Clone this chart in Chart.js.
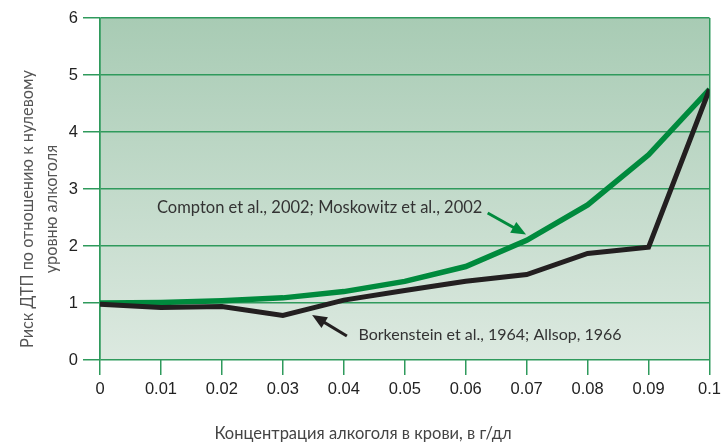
<!DOCTYPE html>
<html>
<head>
<meta charset="utf-8">
<script src="https://cdn.jsdelivr.net/npm/chart.js@4/dist/chart.umd.min.js"></script>
<style>
  html, body { margin: 0; padding: 0; background: #fff; }
  #wrap { width: 726px; height: 444px; }
</style>
</head>
<body>
<div id="wrap"><canvas id="risk_chart" width="726" height="444"></canvas></div>
<script>
// данные графика
const concentrations = [0, 0.01, 0.02, 0.03, 0.04, 0.05, 0.06, 0.07, 0.08, 0.09, 0.1];
const comptonRisk = [1.0, 1.01, 1.04, 1.09, 1.2, 1.38, 1.64, 2.1, 2.72, 3.6, 4.75];
const borkensteinRisk = [0.98, 0.92, 0.94, 0.78, 1.05, 1.22, 1.38, 1.5, 1.87, 1.98, 4.75];
const xTickLabels = ['0', '0.01', '0.02', '0.03', '0.04', '0.05', '0.06', '0.07', '0.08', '0.09', '0.1'];

const yTitle = ['Риск ДТП по отношению к нулевому', 'уровню алкоголя'];
const xTitle = 'Концентрация алкоголя в крови, в г/дл';
const comptonLabel = 'Compton et al., 2002; Moskowitz et al., 2002';
const borkensteinLabel = 'Borkenstein et al., 1964; Allsop, 1966';

const gridGreen = '#2f9a5c';

// фон с градиентом внутри области графика
const backgroundPlugin = {
    id: 'greenBackground',
    beforeDraw(chart) {
        const { ctx, chartArea } = chart;
        const g = ctx.createLinearGradient(0, chartArea.top, 0, chartArea.bottom);
        g.addColorStop(0, '#a8cbb4');
        g.addColorStop(1, '#dce9e0');
        ctx.save();
        ctx.fillStyle = g;
        ctx.fillRect(chartArea.left, chartArea.top, chartArea.right - chartArea.left, chartArea.bottom - chartArea.top);
        ctx.restore();
    }
};

function arrow(ctx, x1, y1, x2, y2, color) {
    const ang = Math.atan2(y2 - y1, x2 - x1);
    const head = 16;
    ctx.strokeStyle = color;
    ctx.fillStyle = color;
    ctx.lineWidth = 3;
    ctx.beginPath();
    ctx.moveTo(x1, y1);
    ctx.lineTo(x2 - Math.cos(ang) * head * 0.8, y2 - Math.sin(ang) * head * 0.8);
    ctx.stroke();
    ctx.beginPath();
    ctx.moveTo(x2, y2);
    ctx.lineTo(x2 - head * Math.cos(ang - 0.4), y2 - head * Math.sin(ang - 0.4));
    ctx.lineTo(x2 - head * Math.cos(ang + 0.4), y2 - head * Math.sin(ang + 0.4));
    ctx.closePath();
    ctx.fill();
}

// подписи, стрелки и заголовки осей
const labelsPlugin = {
    id: 'labels',
    afterDraw(chart) {
        const { ctx } = chart;
        const xs = chart.scales.x, ys = chart.scales.y;
        const px = v => xs.getPixelForValue(v), py = v => ys.getPixelForValue(v);
        ctx.save();
        ctx.fillStyle = '#333';
        ctx.textBaseline = 'middle';
        ctx.textAlign = 'left';
        ctx.font = '16.5px "Lato", "DejaVu Sans", sans-serif';
        ctx.fillText(comptonLabel, px(0.00935), py(2.67));
        ctx.font = '16px "Lato", "DejaVu Sans", sans-serif';
        ctx.fillText(borkensteinLabel, px(0.0424), py(0.44));

        arrow(ctx, px(0.0636), py(2.58), px(0.0699), py(2.2), '#008a3d');
        arrow(ctx, px(0.0405), py(0.42), px(0.0348), py(0.79), '#231f20');

        ctx.fillStyle = '#444';
        ctx.textAlign = 'center';
        ctx.font = '16.5px "Lato", "DejaVu Sans", sans-serif';
        ctx.fillText(xTitle, chart.width / 2, 434);

        ctx.save();
        ctx.translate(28, 209);
        ctx.rotate(-Math.PI / 2);
        ctx.fillStyle = '#555';
        ctx.font = '16.3px "Lato", "DejaVu Sans", sans-serif';
        ctx.fillText(yTitle[0], 0, 0);
        ctx.fillText(yTitle[1], 0, 24);
        ctx.restore();
        ctx.restore();
    }
};

const risk_chart = document.getElementById('risk_chart');
new Chart(risk_chart, {
    type: 'line',
    data: {
        labels: concentrations,
        datasets: [
            {
                label: 'Borkenstein',
                data: concentrations.map((c, i) => ({ x: c, y: borkensteinRisk[i] })),
                borderColor: '#231f20',
                borderWidth: 5,
                pointRadius: 0,
                tension: 0,
                borderJoinStyle: 'miter'
            },
            {
                label: 'Compton',
                data: concentrations.map((c, i) => ({ x: c, y: comptonRisk[i] })),
                borderColor: '#008a3d',
                borderWidth: 5.5,
                pointRadius: 0,
                tension: 0,
                borderJoinStyle: 'miter'
            }
        ]
    },
    options: {
        responsive: false,
        animation: false,
        layout: { padding: { left: 0, top: 18, right: 12, bottom: 0 } },
        plugins: {
            legend: { display: false },
            tooltip: { enabled: false }
        },
        scales: {
            x: {
                type: 'linear',
                min: 0,
                max: 0.1,
                afterBuildTicks(scale) {
                    scale.ticks = concentrations.map(v => ({ value: v }));
                },
                afterFit(scale) { scale.height = 84; },
                ticks: {
                    callback: (v, i) => xTickLabels[i],
                    color: '#222',
                    font: { family: '"Liberation Sans", Arial, sans-serif', size: 16.5 },
                    padding: 5,
                    maxRotation: 0,
                    autoSkip: false
                },
                grid: {
                    color: c => (c.index === 0 || c.index === concentrations.length - 1) ? gridGreen : 'rgba(0,0,0,0)',
                    tickColor: gridGreen,
                    lineWidth: 1.5,
                    tickLength: 15
                },
                border: { display: false }
            },
            y: {
                min: 0,
                max: 6,
                afterFit(scale) { scale.width = 100; },
                ticks: {
                    stepSize: 1,
                    color: '#222',
                    font: { family: '"Liberation Sans", Arial, sans-serif', size: 16.5 },
                    padding: 5
                },
                grid: {
                    color: gridGreen,
                    tickColor: gridGreen,
                    lineWidth: 1.5,
                    tickLength: 17
                },
                border: { color: gridGreen, width: 1.5 }
            }
        }
    },
    plugins: [backgroundPlugin, labelsPlugin]
});
</script>
</body>
</html>
